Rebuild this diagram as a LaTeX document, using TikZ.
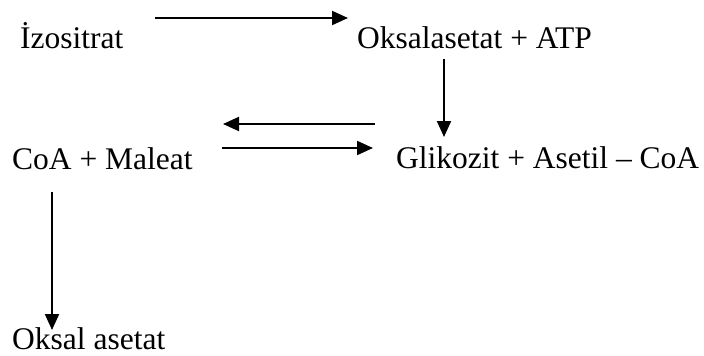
\documentclass[tikz,border=0pt]{standalone}
\usepackage{fontspec}
\setmainfont{Liberation Serif}
\usetikzlibrary{arrows.meta}
\begin{document}
\begin{tikzpicture}[x=1pt,y=-1pt,
  chem/.style={anchor=base west,inner sep=0pt,font=\fontsize{31.5}{36}\selectfont},
  rxn/.style={line width=2pt,-{Triangle[length=16pt,width=14pt]}}]
\useasboundingbox (0,0) rectangle (704,356);
% compounds
\node[chem] (izo)   at (20,48)  {İzositrat};
\node[chem] (oks)   at (357,48) {Oksalasetat + ATP};
\node[chem] (coa)   at (12,169) {CoA + Maleat};
\node[chem] (gli)   at (396,168) {Glikozit + Asetil – CoA};
\node[chem] (oksal) at (12,349) {Oksal asetat};
% arrow end points
\coordinate (a1s) at (155,18);  \coordinate (a1e) at (348,18);
\coordinate (a2s) at (444,59);  \coordinate (a2e) at (444,137);
\coordinate (a3s) at (375,124); \coordinate (a3e) at (223,124);
\coordinate (a4s) at (222,148); \coordinate (a4e) at (373,148);
\coordinate (a5s) at (52,192);  \coordinate (a5e) at (52,330);
% reactions
\draw[rxn] (a1s) -- (a1e);
\draw[rxn] (a2s) -- (a2e);
\draw[rxn] (a3s) -- (a3e);
\draw[rxn] (a4s) -- (a4e);
\draw[rxn] (a5s) -- (a5e);
\end{tikzpicture}
\end{document}
